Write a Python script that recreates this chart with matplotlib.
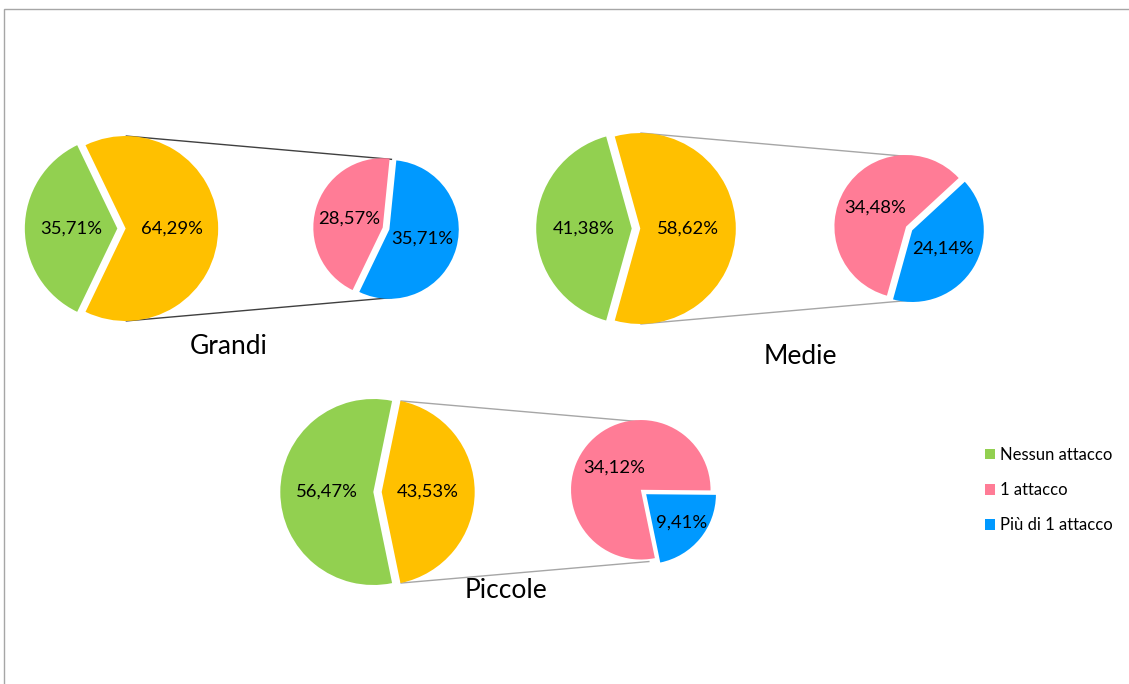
import matplotlib
matplotlib.use("Agg")
import matplotlib.pyplot as plt
from matplotlib.patches import Rectangle, Patch
import numpy as np

plt.rcParams["font.family"] = ["Lato", "DejaVu Sans"]

# Percentuali sul totale delle imprese, per dimensione
groups = ["Grandi", "Medie", "Piccole"]
nessun_attacco = [35.71, 41.38, 56.47]
almeno_un_attacco = [64.29, 58.62, 43.53]
un_attacco = [28.57, 34.48, 34.12]
piu_attacchi = [35.71, 24.14, 9.41]
legend_labels = ["Nessun attacco", "1 attacco", "Più di 1 attacco"]

green, gold = "#92D050", "#FFC000"
pink, blue = "#FF7C96", "#0099FF"

W, H = 1129, 684

# Position of each main pie (pixels from top-left), its radius and title spot
layout = {
    "Grandi": dict(center=(121.5, 228.5), radius=92.5, title=(229, 346), line="#404040"),
    "Medie": dict(center=(636.0, 228.5), radius=95.5, title=(800, 357), line="#A6A6A6"),
    "Piccole": dict(center=(377.5, 492.0), radius=93.0, title=(506, 590), line="#A6A6A6"),
}
SECOND_GAP = 2.86     # distance between pie centres, in main radii
SECOND_SIZE = 0.75    # secondary pie size relative to the main one


def P(x, y):
    """pixel position (from top-left) -> data coordinates"""
    return (x, H - y)


def fmt(v):
    return f"{v:.2f}%".replace(".", ",")


fig = plt.figure(figsize=(W / 100, H / 100), dpi=100)
ax = fig.add_axes([0, 0, 1, 1])

label_kw = dict(ha="center", va="center", fontsize=13.3, color="black", zorder=5)

for i, g in enumerate(groups):
    spec = layout[g]
    cx, cy = P(*spec["center"])
    r = spec["radius"]
    other = almeno_un_attacco[i]
    main_vals = [nessun_attacco[i], other]
    half = other / (nessun_attacco[i] + other) * 180

    ex = 0.045 * r
    main_w, _ = ax.pie(main_vals, colors=[green, gold], center=(cx, cy), radius=r,
                       startangle=half, counterclock=True, explode=[ex, ex],
                       wedgeprops=dict(linewidth=0))

    c2 = (cx + SECOND_GAP * r, cy)
    r2 = SECOND_SIZE * r
    ex2 = 0.05 * r2
    sub_vals = [un_attacco[i], piu_attacchi[i]]
    sub_w, _ = ax.pie(sub_vals, colors=[pink, blue], center=c2, radius=r2,
                      startangle=-half, counterclock=False, explode=[ex2, ex2],
                      wedgeprops=dict(linewidth=0))

    # data labels inside each slice
    for w, v in zip(list(main_w) + list(sub_w), main_vals + sub_vals):
        span = abs(w.theta2 - w.theta1)
        mid = np.deg2rad((w.theta1 + w.theta2) / 2)
        d = 0.5 if span > 90 else 0.65
        x0, y0 = w.center
        ax.text(x0 + d * w.r * np.cos(mid), y0 + d * w.r * np.sin(mid), fmt(v), **label_kw)

    # series lines from the aggregated slice to the secondary pie
    yw = main_w[1]
    a = np.deg2rad(min(90.0, half))
    b = np.deg2rad(85.0)
    for s in (1, -1):
        x_start = yw.center[0] + r * np.cos(a)
        y_start = yw.center[1] + s * r * np.sin(a)
        x_end = c2[0] + r2 * np.cos(b)
        y_end = c2[1] + s * r2 * np.sin(b)
        ax.plot([x_start, x_end], [y_start, y_end], color=spec["line"], lw=1.0,
                zorder=0.5, solid_capstyle="butt")

    tx, ty = P(*spec["title"])
    ax.text(tx, ty, g, ha="center", va="center", fontsize=19, color="black")

# legend
handles = [Patch(facecolor=c, edgecolor="none") for c in (green, pink, blue)]
ax.legend(handles, legend_labels, loc="upper left", bbox_to_anchor=P(985, 447),
          bbox_transform=ax.transData, frameon=False, handlelength=0.6,
          handleheight=0.6, handletextpad=0.3, labelspacing=1.15, fontsize=12,
          borderaxespad=0, borderpad=0)

# chart area border (top and left edges visible)
ax.add_patch(Rectangle(P(3.5, 700), 1300, 700 - 8.5, fill=False,
                       edgecolor="#A6A6A6", lw=1.0, zorder=0))

ax.set_xlim(0, W)
ax.set_ylim(0, H)
ax.set_aspect("equal")
ax.set_axis_off()

fig.savefig("out.png", dpi=100, facecolor="white")
